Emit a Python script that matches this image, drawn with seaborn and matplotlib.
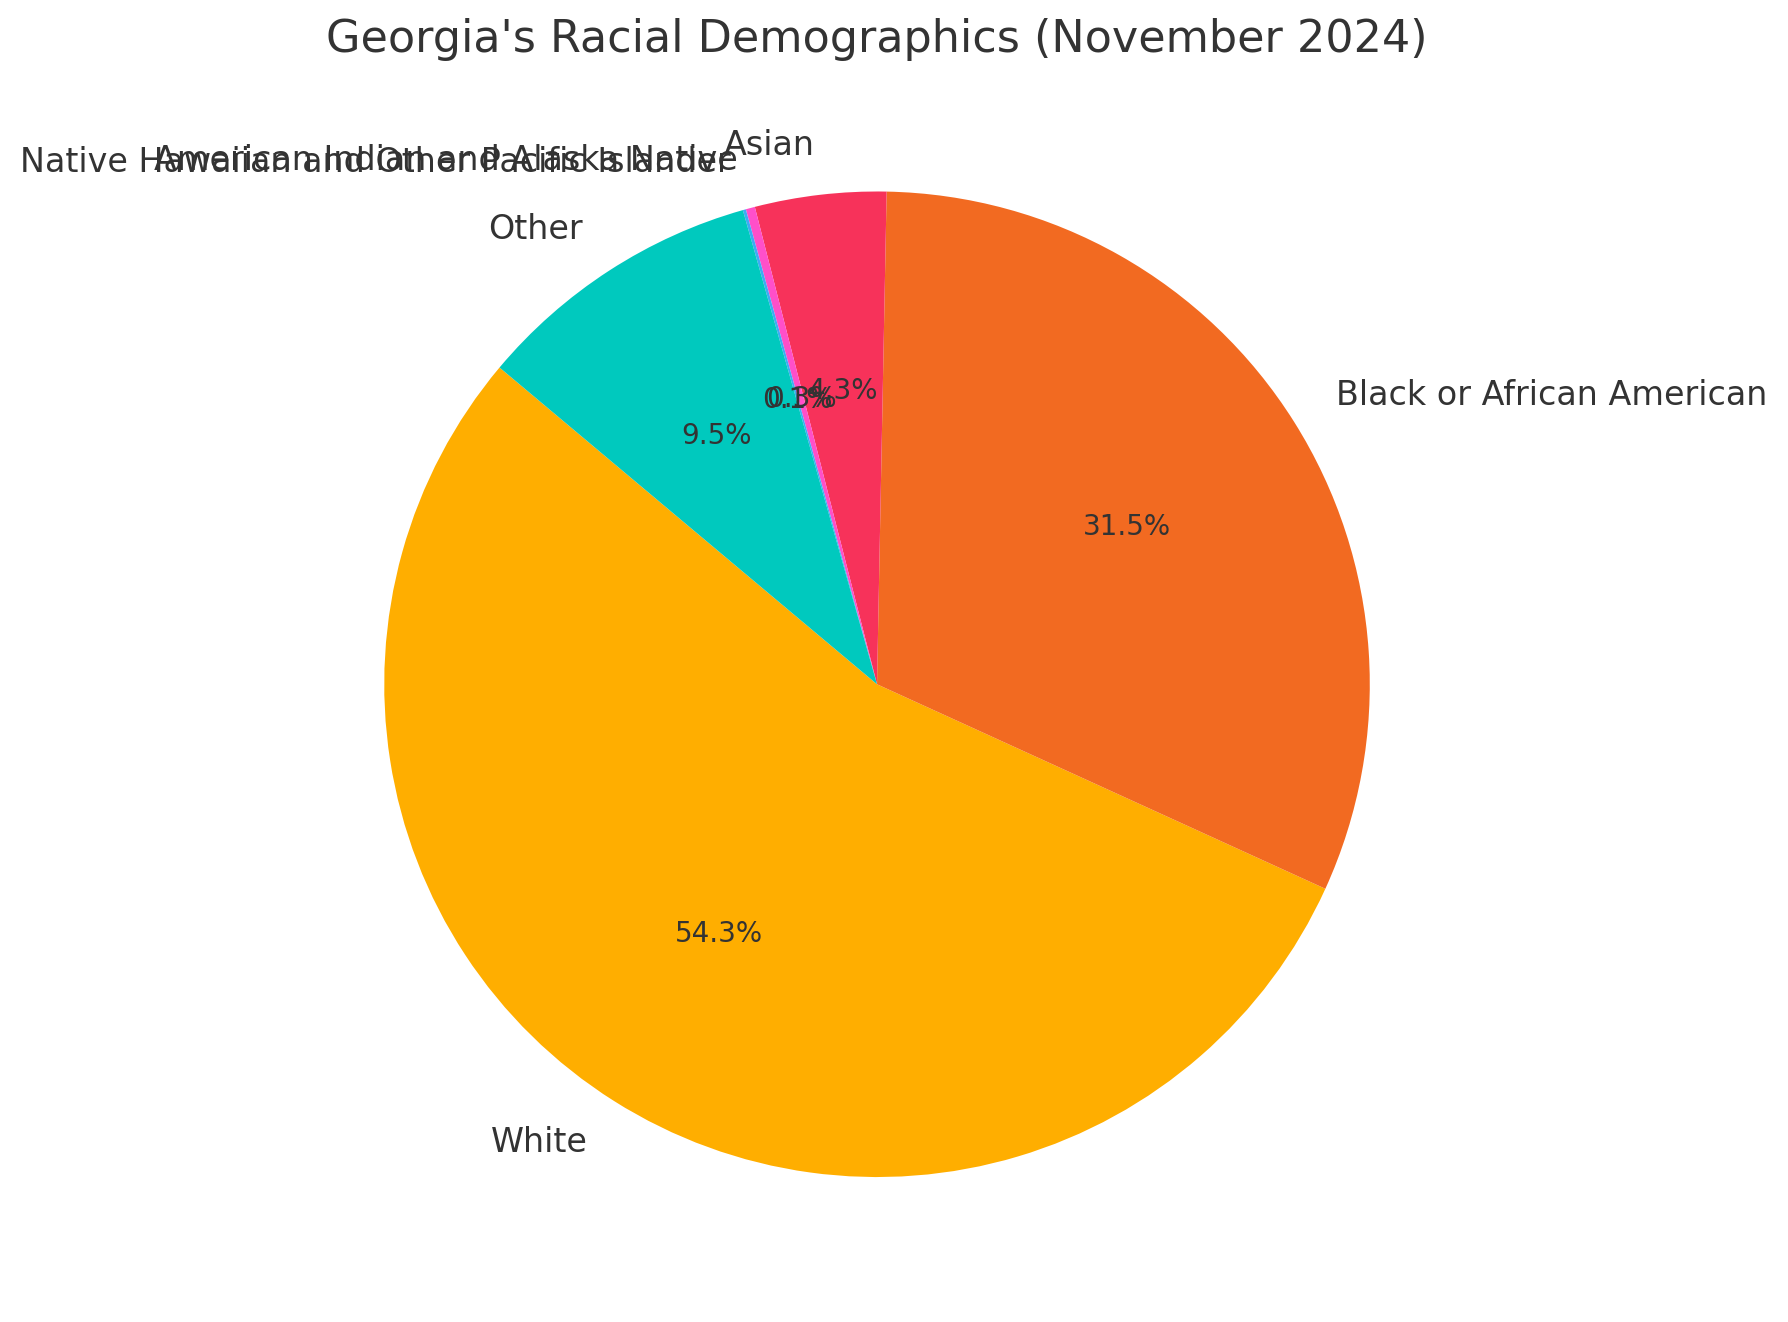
import matplotlib
matplotlib.use("Agg")
import matplotlib.pyplot as plt
import seaborn as sns

# Georgia racial composition, Nov 2024 (percent)
groups = ['White', 'Black or African American', 'Asian',
          'American Indian and Alaska Native',
          'Native Hawaiian and Other Pacific Islander', 'Other']
shares = [54.3, 31.5, 4.3, 0.3, 0.1, 9.5]
slice_colors = ['#FFAE00', '#F26A21', '#F7325A', '#FF4FC9', '#3FA9F5', '#00C9BE']

sns.set_theme(style="white")
plt.rcParams['font.family'] = ['DejaVu Sans']
plt.rcParams['text.color'] = '#333333'

fig = plt.figure(figsize=(8.94, 6.61), dpi=200)
ax = fig.add_axes([0.146, 0.0164, 0.689, 0.932])

palette = sns.color_palette(slice_colors)
wedges, texts, autotexts = ax.pie(shares, labels=groups, colors=palette,
                                  autopct='%1.1f%%', startangle=140,
                                  wedgeprops={'linewidth': 0},
                                  textprops={'fontsize': 12, 'color': '#333333'})
for t in autotexts:
    t.set_fontsize(10)
ax.set_aspect('equal')
ax.set_title("Georgia's Racial Demographics (November 2024)", fontsize=16,
             color='#333333')

fig.savefig('out.png', dpi=200)
